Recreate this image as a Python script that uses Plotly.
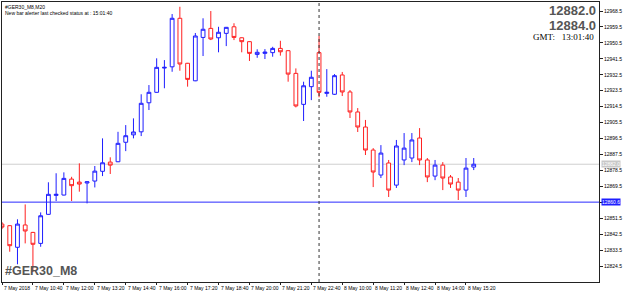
import plotly.graph_objects as go

# ---- data ----
bar_index = list(range(62))
opens = [12848.2, 12847.3, 12835.1, 12847.7, 12843.5, 12837.3, 12853.7, 12864.4, 12864.6, 12873.6,
         12871.9, 12871.4, 12872.5, 12878.0, 12883.2, 12883.4, 12894.4, 12898.6, 12900.3, 12916.7,
         12922.6, 12936.3, 12937.0, 12964.4, 12939.0, 12929.1, 12953.6, 12958.7, 12953.4, 12955.9,
         12959.6, 12953.4, 12951.2, 12944.0, 12944.6, 12945.0, 12947.4, 12946.1, 12933.3, 12915.8,
         12925.8, 12945.0, 12922.0, 12921.5, 12932.4, 12922.8, 12911.5, 12903.0, 12890.0, 12875.9,
         12882.7, 12870.2, 12884.4, 12885.5, 12896.8, 12884.4, 12875.3, 12881.5, 12874.8, 12871.9,
         12867.4, 12880.4]
highs = [12849.3, 12847.6, 12850.9, 12859.3, 12843.8, 12854.8, 12871.8, 12876.9, 12877.4, 12874.9,
         12882.5, 12872.3, 12881.0, 12896.6, 12885.9, 12900.3, 12904.1, 12907.9, 12921.5, 12926.7,
         12941.8, 12940.8, 12966.8, 12970.9, 12939.2, 12956.1, 12964.4, 12968.5, 12959.6, 12959.5,
         12961.6, 12953.6, 12951.4, 12946.9, 12947.0, 12948.3, 12951.7, 12946.3, 12936.1, 12928.6,
         12934.8, 12954.5, 12935.7, 12932.9, 12934.1, 12923.9, 12913.7, 12907.0, 12891.1, 12892.8,
         12884.4, 12895.7, 12899.6, 12899.6, 12902.4, 12885.5, 12884.4, 12883.2, 12875.9, 12874.2,
         12885.5, 12885.5]
lows = [12845.4, 12832.6, 12825.5, 12837.3, 12821.1, 12835.4, 12853.5, 12861.2, 12864.4, 12861.2,
        12866.5, 12859.9, 12868.9, 12875.3, 12876.5, 12883.2, 12889.4, 12896.6, 12897.9, 12912.6,
        12922.4, 12924.9, 12934.2, 12934.8, 12925.8, 12928.9, 12943.1, 12952.1, 12945.2, 12948.7,
        12952.1, 12945.2, 12940.3, 12942.1, 12941.4, 12942.7, 12943.3, 12928.6, 12914.1, 12906.4,
        12918.2, 12919.8, 12920.1, 12921.1, 12920.5, 12908.1, 12900.2, 12887.2, 12869.1, 12874.2,
        12863.5, 12868.6, 12881.5, 12883.2, 12881.5, 12871.9, 12873.0, 12867.4, 12868.6, 12861.8,
        12863.5, 12878.7]
closes = [12846.5, 12836.0, 12848.2, 12844.3, 12836.8, 12852.9, 12865.0, 12865.0, 12874.0, 12869.9,
          12870.8, 12872.1, 12878.1, 12882.8, 12881.5, 12893.8, 12898.1, 12900.2, 12916.4, 12922.6,
          12936.7, 12936.7, 12964.4, 12938.6, 12929.9, 12954.4, 12958.2, 12952.7, 12956.5, 12959.3,
          12953.6, 12951.2, 12944.6, 12945.2, 12945.3, 12947.4, 12945.5, 12932.9, 12914.9, 12926.3,
          12931.1, 12922.6, 12922.6, 12932.0, 12922.8, 12911.5, 12903.0, 12890.0, 12877.6, 12888.3,
          12867.4, 12892.3, 12891.1, 12895.7, 12884.4, 12874.8, 12881.5, 12874.2, 12870.8, 12867.4,
          12879.8, 12882.0]

x_tick_index = [0, 4, 8, 12, 16, 20, 24, 28, 32, 36, 40, 44, 48, 52, 56, 60]
x_tick_labels = ["7 May 2018", "7 May 10:40", "7 May 12:00", "7 May 13:20", "7 May 14:40",
                 "7 May 16:00", "7 May 17:20", "7 May 18:40", "7 May 20:00", "7 May 21:20",
                 "7 May 22:40", "8 May 10:00", "8 May 11:20", "8 May 12:40", "8 May 14:00",
                 "8 May 15:20"]
y_tick_values = [12968.5, 12959.5, 12950.5, 12941.5, 12932.5, 12923.5, 12914.5, 12905.5, 12896.5,
                 12887.5, 12878.5, 12869.5, 12860.5, 12851.5, 12842.5, 12833.5, 12824.5]
y_tick_labels = ["12968.5", "12959.5", "12950.5", "12941.5", "12932.5", "12923.5", "12914.5",
                 "12905.5", "12896.5", "12887.5", "12878.5", "12869.5", "12860.5", "12851.5",
                 "12842.5", "12833.5", "12824.5"]

bid_price = 12882.0
ask_price = 12884.0
level_line = 12860.6
separator_index = 41

BLUE = "#1e1eff"
RED = "#ff2020"
FONT = "Liberation Sans"

# the level-line label covers the tick label next to it (as in the reference)
shown_y_labels = ["" if abs(v - level_line) < 2 else t for v, t in zip(y_tick_values, y_tick_labels)]

fig = go.Figure(go.Candlestick(
    x=bar_index, open=opens, high=highs, low=lows, close=closes,
    increasing=dict(line=dict(color=BLUE, width=1), fillcolor="white"),
    decreasing=dict(line=dict(color=RED, width=1), fillcolor="white"),
    whiskerwidth=0, hoverinfo="skip",
))

fig.update_layout(
    width=625, height=292,
    margin=dict(l=2, r=26, t=2, b=10),
    paper_bgcolor="white", plot_bgcolor="white",
    showlegend=False,
    font=dict(family=FONT, color="black"),
    xaxis=dict(
        range=[0, 77.2], showgrid=False, zeroline=False,
        showline=True, linecolor="#222", linewidth=1, mirror=True,
        ticks="outside", ticklen=2, tickcolor="#222",
        tickvals=x_tick_index, ticktext=[""] * len(x_tick_index),
        rangeslider=dict(visible=False), automargin=False, fixedrange=True,
    ),
    yaxis=dict(
        range=[12815.5, 12973.6], side="right", showgrid=False, zeroline=False,
        showline=True, linecolor="#222", linewidth=1, mirror=True,
        ticks="outside", ticklen=3, tickcolor="#222",
        tickvals=y_tick_values, ticktext=shown_y_labels,
        tickfont=dict(size=5, family=FONT, color="black"),
        automargin=False, fixedrange=True,
    ),
)

# x-axis labels, left-aligned right after each tick (MT4 style)
for xi, lab in zip(x_tick_index, x_tick_labels):
    fig.add_annotation(xref="x", yref="paper", x=xi, y=0, xanchor="left", yanchor="top",
                       xshift=0, yshift=-1, text=lab, showarrow=False,
                       font=dict(size=5, family=FONT, color="black"))

# horizontal lines and separator
fig.add_shape(type="line", xref="paper", x0=0, x1=1, yref="y", y0=bid_price, y1=bid_price,
              line=dict(color="#cfcfcf", width=1), layer="below")
fig.add_shape(type="line", xref="paper", x0=0, x1=1, yref="y", y0=level_line, y1=level_line,
              line=dict(color="#2a2aff", width=1))
fig.add_shape(type="line", xref="x", x0=separator_index, x1=separator_index, yref="paper", y0=0, y1=1,
              line=dict(color="#333", width=1, dash="dot"))

# texts
fig.add_annotation(xref="paper", yref="paper", x=0, y=1, xanchor="left", yanchor="top",
                   xshift=1, yshift=0, text="#GER30_M8,M20", showarrow=False,
                   font=dict(size=5, family=FONT, color="black"))
fig.add_annotation(xref="paper", yref="paper", x=0, y=1, xanchor="left", yanchor="top",
                   xshift=1, yshift=-6, text="New bar alerter last checked status at : 15:01:40",
                   showarrow=False, font=dict(size=5, family=FONT, color="black"))
fig.add_annotation(xref="paper", yref="paper", x=1, y=1, xanchor="right", yanchor="top",
                   xshift=-1, yshift=1, text="<b>%.1f</b>" % bid_price, showarrow=False,
                   font=dict(size=13, family=FONT, color="#555555"))
fig.add_annotation(xref="paper", yref="paper", x=1, y=1, xanchor="right", yanchor="top",
                   xshift=-1, yshift=-14, text="<b>%.1f</b>" % ask_price, showarrow=False,
                   font=dict(size=13, family=FONT, color="#555555"))
fig.add_annotation(xref="paper", yref="paper", x=1, y=1, xanchor="right", yanchor="top",
                   xshift=-3, yshift=-28, text="GMT:&nbsp;&nbsp;&nbsp;13:01:40", showarrow=False,
                   font=dict(size=9, family="Liberation Serif", color="black"))
fig.add_annotation(xref="paper", yref="paper", x=0, y=0, xanchor="left", yanchor="bottom",
                   xshift=1, yshift=2, text="<b>#GER30_M8</b>", showarrow=False,
                   font=dict(size=12.5, family=FONT, color="#555555"))

# price labels on the right axis
fig.add_annotation(xref="paper", yref="y", x=1, y=bid_price, xanchor="left", yanchor="middle",
                   xshift=2, text="%.1f" % bid_price, showarrow=False, bgcolor="#c8c8c8",
                   borderpad=0, font=dict(size=5, family=FONT, color="white"))
fig.add_annotation(xref="paper", yref="y", x=1, y=level_line, xanchor="left", yanchor="middle",
                   xshift=2, text="%.1f" % level_line, showarrow=False, bgcolor="#1e1eff",
                   borderpad=0, font=dict(size=5, family=FONT, color="white"))

fig.write_html("out.html")
